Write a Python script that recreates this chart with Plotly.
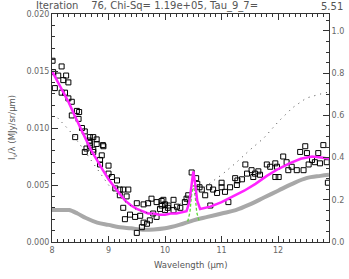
import plotly.graph_objects as go

# observed spectrum (wavelength in micron, flux in MJy/sr/um)
wave = [8.01, 8.17, 8.02, 8.11, 8.25, 8.20, 8.29, 8.05, 8.17, 8.23, 8.29, 8.35, 8.44, 8.48, 8.35, 8.47,
        8.53, 8.58, 8.41, 8.67, 8.73, 8.66, 8.79, 8.91, 8.67, 8.73, 8.58, 8.88,
        8.67, 8.79, 8.90, 8.61, 8.73, 8.85, 9.00, 8.85, 9.00, 9.06, 9.15, 9.12, 9.20, 9.26, 9.35, 9.20,
        9.32, 9.50, 9.62, 9.70, 9.76, 9.85, 9.94, 10.00, 9.26, 9.38, 9.47, 9.29, 9.56, 9.62, 9.68, 9.59,
        9.50, 9.79, 9.91, 9.85, 9.73, 10.05,
        9.97, 10.15, 10.06, 9.94, 10.21, 10.27, 10.00, 10.15, 10.35, 10.41, 10.38, 10.47, 10.55, 10.57,
        10.61, 10.65, 10.71, 10.80, 10.78, 10.85, 10.92, 11.00, 11.00, 11.06, 11.12, 11.15, 11.24, 11.28,
        11.36, 11.42, 11.45, 11.53, 11.59, 11.65, 11.68, 11.80, 11.86, 11.95, 11.95, 12.01, 11.98, 12.09,
        12.15, 12.18, 12.24, 12.33, 12.39, 12.48, 12.51, 12.54, 12.60, 12.65, 12.71, 12.80, 12.86, 12.74,
        12.45, 11.27, 11.56, 12.88]
flux = [0.0159, 0.0154, 0.0149, 0.0146, 0.0146, 0.0142, 0.0140, 0.0135, 0.0131, 0.0131, 0.0126, 0.0123,
        0.0115, 0.0114, 0.0111, 0.0108, 0.0100, 0.0097, 0.0092, 0.0092, 0.0092, 0.0089, 0.0090, 0.0084,
        0.0084, 0.0081, 0.0079, 0.0076,
        0.0087, 0.0086, 0.0085, 0.0082, 0.0079, 0.0072, 0.0067, 0.0068, 0.0060, 0.0057, 0.0054, 0.0047,
        0.0046, 0.0046, 0.0046, 0.0041, 0.0040, 0.0034, 0.0033, 0.0034, 0.0038, 0.0035, 0.0036, 0.0033,
        0.0030, 0.0024, 0.0022, 0.0020, 0.0023, 0.0017, 0.0016, 0.0013, 0.0008, 0.0025, 0.0029, 0.0022,
        0.0019, 0.0030,
        0.0037, 0.0037, 0.0032, 0.0032, 0.0031, 0.0030, 0.0028, 0.0028, 0.0035, 0.0041, 0.0038, 0.0061,
        0.0056, 0.0051, 0.0048, 0.0046, 0.0041, 0.0032, 0.0048, 0.0046, 0.0043, 0.0052, 0.0048, 0.0044,
        0.0035, 0.0048, 0.0056, 0.0054, 0.0055, 0.0068, 0.0060, 0.0063, 0.0060, 0.0062, 0.0059, 0.0068,
        0.0066, 0.0069, 0.0057, 0.0057, 0.0066, 0.0075, 0.0070, 0.0063, 0.0066, 0.0063, 0.0079, 0.0084,
        0.0078, 0.0068, 0.0072, 0.0070, 0.0078, 0.0085, 0.0070, 0.0069, 0.0063, 0.0050, 0.0057, 0.0052]

# total fit (magenta)
fit_wave = [8.0, 8.1, 8.2, 8.3, 8.4, 8.5, 8.6, 8.7, 8.8, 8.9, 9.0, 9.1, 9.2, 9.3, 9.4, 9.5, 9.6, 9.7,
            9.8, 9.9, 10.0, 10.1, 10.2, 10.3, 10.38, 10.43, 10.47, 10.50, 10.53, 10.57, 10.62, 10.7,
            10.8, 10.9, 11.0, 11.2, 11.4, 11.6, 11.8, 12.0, 12.2, 12.4, 12.6, 12.8, 12.9]
fit_flux = [0.0150, 0.0141, 0.0132, 0.0122, 0.0111, 0.0100, 0.0090, 0.0080, 0.0071, 0.0063, 0.0055,
            0.0048, 0.0042, 0.0036, 0.0032, 0.0029, 0.0027, 0.0025, 0.0025, 0.0024, 0.0024, 0.0025,
            0.0025, 0.0026, 0.0027, 0.0035, 0.0052, 0.0062, 0.0052, 0.0036, 0.0029, 0.0030, 0.0031,
            0.0033, 0.0035, 0.0040, 0.0045, 0.0051, 0.0058, 0.0064, 0.0069, 0.0073, 0.0075, 0.0074,
            0.0073]

# continuum (grey)
cont_wave = [8.0, 8.2, 8.3, 8.45, 8.6, 8.8, 9.0, 9.2, 9.4, 9.6, 9.8, 10.0, 10.25, 10.5, 10.75, 11.0,
             11.25, 11.5, 11.75, 12.0, 12.25, 12.5, 12.75, 12.9]
cont_flux = [0.0028, 0.0028, 0.0028, 0.0025, 0.0021, 0.0017, 0.0015, 0.0013, 0.0012, 0.00108, 0.0011,
             0.0012, 0.0015, 0.0019, 0.0022, 0.0025, 0.0028, 0.0033, 0.0039, 0.0045, 0.0051, 0.0056,
             0.0058, 0.0059]

# emission line component (green dashed)
line_wave = [10.40, 10.44, 10.47, 10.50, 10.53, 10.56, 10.60]
line_flux = [0.0018, 0.0026, 0.0042, 0.0050, 0.0042, 0.0026, 0.0019]

# extinction curve (right axis, dotted)
ext_wave = [8.1, 8.3, 8.5, 8.75, 9.0, 9.25, 9.5, 9.75, 10.0, 10.25, 10.5, 10.75, 11.0, 11.25, 11.5,
            11.75, 12.0, 12.25, 12.5, 12.75, 12.9]
ext_val = [0.588, 0.531, 0.460, 0.365, 0.270, 0.199, 0.152, 0.133, 0.142, 0.175, 0.223, 0.270, 0.318,
           0.374, 0.436, 0.493, 0.569, 0.635, 0.682, 0.701, 0.711]

title_left = "Iteration\u00a0\u00a0\u00a0\u00a076, Chi-Sq=\u00a01.19e+05, Tau_9_7="
title_right = "5.51"

FONT = "DejaVu Sans"
AX = "#333333"
LBL = "#666666"

fig = go.Figure()
fig.add_trace(go.Scatter(x=cont_wave, y=cont_flux, mode="lines", line_shape="spline",
                         line=dict(color="#a8a8a8", width=4), showlegend=False))
fig.add_trace(go.Scatter(x=ext_wave, y=ext_val, mode="lines", yaxis="y2",
                         line=dict(color="#444444", width=1, dash="1px,5px"), showlegend=False))
fig.add_trace(go.Scatter(x=wave, y=flux, mode="markers",
                         marker=dict(symbol="square-open", size=5, color="black",
                                     line=dict(width=1, color="black")), showlegend=False))
fig.add_trace(go.Scatter(x=line_wave, y=line_flux, mode="lines",
                         line=dict(color="#5ed83a", width=1.3, dash="3px,2px"), showlegend=False))
fig.add_trace(go.Scatter(x=fit_wave, y=fit_flux, mode="lines",
                         line=dict(color="#ff22ff", width=2.5), showlegend=False))

tickfont = dict(family=FONT, size=8, color=LBL)
fig.update_layout(
    width=349, height=279,
    margin=dict(l=52, r=20, t=14, b=37, autoexpand=False),
    paper_bgcolor="white", plot_bgcolor="white",
    hovermode=False,
    xaxis=dict(range=[8, 12.9], dtick=1, tick0=8, ticks="inside", ticklen=6, tickcolor=AX,
               showline=True, linecolor=AX, linewidth=1, mirror="ticks", showgrid=False,
               zeroline=False, tickfont=tickfont, automargin=False,
               minor=dict(dtick=0.1, ticks="inside", ticklen=3, tickcolor=AX)),
    yaxis=dict(range=[0, 0.020], dtick=0.005, tick0=0, tickformat=".3f", ticks="inside",
               ticklen=6, tickcolor=AX, showline=True, linecolor=AX, linewidth=1,
               showgrid=False, zeroline=False, tickfont=tickfont, automargin=False,
               minor=dict(dtick=0.001, ticks="inside", ticklen=3, tickcolor=AX)),
    yaxis2=dict(range=[0, 1.08], dtick=0.2, tick0=0, tickformat=".1f", overlaying="y",
                side="right", ticks="inside", ticklen=6, tickcolor=AX, showline=True,
                linecolor=AX, linewidth=1, showgrid=False, zeroline=False, tickfont=tickfont,
                automargin=False,
                minor=dict(dtick=0.05, ticks="inside", ticklen=3, tickcolor=AX)),
    annotations=[
        dict(text=title_left, xref="paper", yref="paper", x=-0.065, y=1.035,
             xanchor="left", yanchor="middle", showarrow=False,
             font=dict(family=FONT, size=10, color="#555555")),
        dict(text=title_right, xref="paper", yref="paper", x=1.058, y=1.035,
             xanchor="right", yanchor="middle", showarrow=False,
             font=dict(family=FONT, size=10, color="#555555")),
        dict(text="Wavelength (\u03bcm)", xref="paper", yref="paper", x=0.5, y=-0.10,
             xanchor="center", yanchor="middle", showarrow=False,
             font=dict(family=FONT, size=8.5, color="#555555")),
        dict(text="I<sub>\u03bd</sub>/\u03bb (MJy/sr/\u03bcm)", xref="paper", yref="paper",
             x=-0.144, y=0.5, xanchor="center", yanchor="middle", textangle=-90,
             showarrow=False, font=dict(family=FONT, size=8.5, color="#555555")),
    ],
)

fig.write_html("out.html", config={"displayModeBar": False, "staticPlot": True},
               post_script="document.body.style.margin='0';document.body.style.padding='0';")
